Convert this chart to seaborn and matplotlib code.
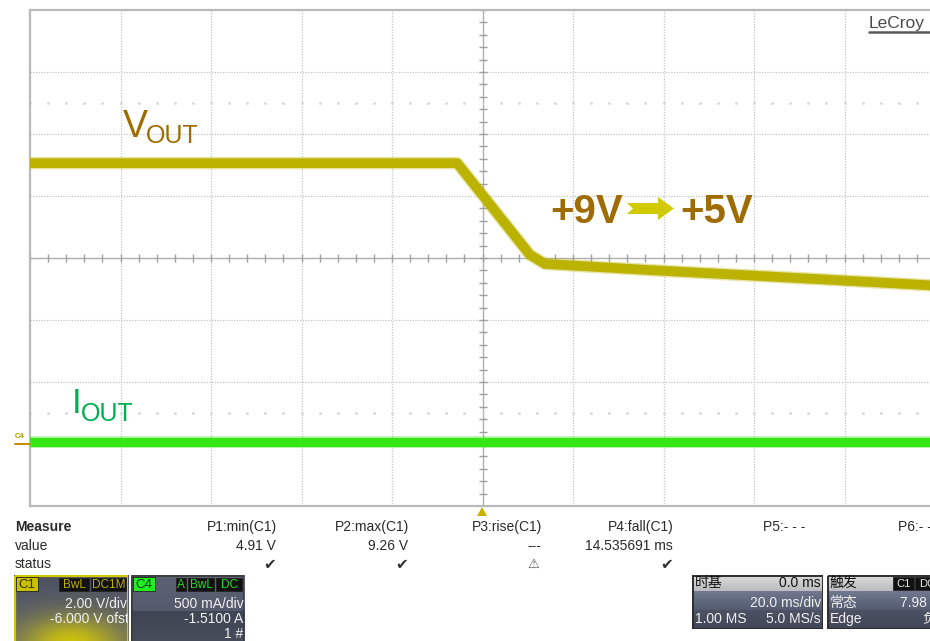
import numpy as np
import matplotlib
matplotlib.use("Agg")
import matplotlib.pyplot as plt
import seaborn as sns
from matplotlib.patches import Rectangle, Polygon
from matplotlib.lines import Line2D

sns.set_style("white")
plt.rcParams['font.family'] = ['Liberation Sans', 'Noto Sans CJK SC', 'DejaVu Sans']

# ---- acquisition settings ----
ms_per_div = 20.0
v_per_div = 2.0
v_offset = -6.0
a_per_div = 0.5
a_offset = -1.51

# ---- C1: output voltage (V) vs time (ms) ----
vout_time_ms = [-100, -5.6, 10.5, 13.8, 37.0, 70.2, 100]
vout_v = [9.06, 9.06, 6.10, 5.81, 5.61, 5.35, 5.11]

# ---- C4: output current (A) vs time (ms) ----
iout_time_ms = [-100, 100]
iout_a = [0.03, 0.03]

# ---- measurement table ----
measure_names = ["P1:min(C1)", "P2:max(C1)", "P3:rise(C1)", "P4:fall(C1)", "P5:- - -", "P6:- - -"]
measure_values = ["4.91 V", "9.26 V", "---", "14.535691 ms", "", ""]
measure_status = ["ok", "ok", "warn", "ok", "", ""]

W, H = 930, 641
VOUT_COLOR = "#bcb300"
IOUT_COLOR = "#33e614"
LABEL_GOLD = "#9e6c00"
LABEL_GREEN = "#00ad4f"


def fx(x):
    return x / W


def fy(y):
    return 1 - y / H


fig = plt.figure(figsize=(W / 100, H / 100), dpi=100)
fig.patch.set_facecolor("white")

# ---- graticule (10 x 8 divisions) ----
ax = fig.add_axes([fx(30), fy(506), 905 / W, 496 / H])
ax.set_xlim(-5 * ms_per_div, 5 * ms_per_div)
v_center = -v_offset
ax.set_ylim(v_center - 4 * v_per_div, v_center + 4 * v_per_div)
ax.set_xticks([]); ax.set_yticks([])
ax.set_facecolor("white")
for s in ax.spines.values():
    s.set_color("#b9b9b9"); s.set_linewidth(1.6)

grid_kw = dict(color="#c4c4c4", lw=0.9, ls=(0, (1, 1.2)), zorder=1)
for k in range(-4, 5):
    if k != 0:
        ax.axvline(k * ms_per_div, **grid_kw)
for k in range(-3, 4):
    if k != 0:
        ax.axhline(v_center + k * v_per_div, **grid_kw)
ax.axvline(0, color="#b0b0b0", lw=1.0, zorder=1)
ax.axhline(v_center, color="#b0b0b0", lw=1.0, zorder=1)

# minor ticks on the centre lines (5 per division)
ty = v_center + np.arange(-20, 21) * v_per_div / 5
ax.plot(np.zeros_like(ty), ty, ls="none", marker="_", ms=6, mew=1.0, color="#a0a0a0", zorder=1)
tx = np.arange(-25, 26) * ms_per_div / 5
ax.plot(tx, np.full_like(tx, v_center), ls="none", marker="|", ms=6, mew=1.0, color="#a0a0a0", zorder=1)
# faint half-division dotted rows
for yy in (v_center + 2.5 * v_per_div, v_center - 2.5 * v_per_div):
    ax.plot(tx, np.full_like(tx, yy), ls="none", marker=".", ms=2.2, color="#dadada", zorder=1)

# ---- C1 trace ----
sns.lineplot(x=vout_time_ms, y=vout_v, ax=ax, color=VOUT_COLOR, linewidth=9.0,
             alpha=0.35, solid_capstyle="butt", zorder=3)
sns.lineplot(x=vout_time_ms, y=vout_v, ax=ax, color=VOUT_COLOR, linewidth=7.0,
             solid_capstyle="butt", zorder=4)

# ---- C4 trace on its own vertical scale ----
ax2 = ax.twinx()
ax2.set_ylim(-a_offset - 4 * a_per_div, -a_offset + 4 * a_per_div)
ax2.set_yticks([]); ax2.set_xticks([])
for s in ax2.spines.values():
    s.set_visible(False)
sns.lineplot(x=iout_time_ms, y=iout_a, ax=ax2, color=IOUT_COLOR, linewidth=8.5,
             alpha=0.35, solid_capstyle="butt", zorder=3)
sns.lineplot(x=iout_time_ms, y=iout_a, ax=ax2, color=IOUT_COLOR, linewidth=6.6,
             solid_capstyle="butt", zorder=4)

# ---- annotations on the screen ----
fig.text(fx(123), fy(137), "V", fontsize=27, color=LABEL_GOLD, va="baseline")
fig.text(fx(146), fy(143), "OUT", fontsize=18, color=LABEL_GOLD, va="baseline")
fig.text(fx(72), fy(413), "I", fontsize=25, color=LABEL_GREEN, va="baseline")
fig.text(fx(81), fy(421), "OUT", fontsize=18, color=LABEL_GREEN, va="baseline")

fig.text(fx(550), fy(223), "+9V", fontsize=29, fontweight="bold", color=LABEL_GOLD, va="baseline")
fig.text(fx(680), fy(223), "+5V", fontsize=29, fontweight="bold", color=LABEL_GOLD, va="baseline")
arrow_px = [(627, 203), (658, 203), (658, 197), (674, 208.5), (658, 220), (658, 214), (627, 214), (633, 208.5)]
fig.patches.append(Polygon([(fx(x), fy(y)) for x, y in arrow_px], closed=True,
                           transform=fig.transFigure, facecolor="#d2ca00", edgecolor="none"))

fig.text(fx(869), fy(28), "LeCroy", fontsize=12.5, color="#4a4a4a", va="baseline")
fig.lines.append(Line2D([fx(869), fx(935)], [fy(31.5), fy(31.5)], transform=fig.transFigure,
                        color="#5a5a5a", lw=1.8))

# C4 ground marker
fig.text(fx(15), fy(438), "C4", fontsize=5.5, fontweight="bold", color="#a89a00", va="baseline")
fig.lines.append(Line2D([fx(15), fx(30)], [fy(444), fy(444)], transform=fig.transFigure,
                        color="#c88a00", lw=1.4))

# trigger position marker
trig_px = [(477, 516), (487, 516), (482, 507)]
fig.patches.append(Polygon([(fx(x), fy(y)) for x, y in trig_px], closed=True,
                           transform=fig.transFigure, facecolor="#c8b400", edgecolor="none"))

# ---- measurement table ----
TXT = "#2a2a2a"
fig.text(fx(15), fy(527), "Measure", fontsize=10, fontweight="bold", color=TXT, va="center")
fig.text(fx(15), fy(546), "value", fontsize=10, color=TXT, va="center")
fig.text(fx(15), fy(564), "status", fontsize=10, color=TXT, va="center")
col_right = [277, 409, 542, 674, 805, 940]
for xr, name, val, st in zip(col_right, measure_names, measure_values, measure_status):
    fig.text(fx(xr), fy(527), name, fontsize=10, color=TXT, ha="right", va="center")
    if val:
        fig.text(fx(xr - 1), fy(546), val, fontsize=10, color=TXT, ha="right", va="center")
    if st == "ok":
        fig.text(fx(xr - 1), fy(564), "\u2714", fontsize=11, color="#333333", ha="right",
                 va="center", family=["DejaVu Sans"])
    elif st == "warn":
        fig.text(fx(xr - 9), fy(564), "\u26a0", fontsize=9.5, color="#555555", ha="center",
                 va="center", family=["DejaVu Sans"])


# ---- channel / timebase / trigger boxes ----
def box_axes(x0, y0, x1, y1):
    a = fig.add_axes([fx(x0), fy(y1), (x1 - x0) / W, (y1 - y0) / H])
    a.set_xlim(x0, x1); a.set_ylim(y1, y0); a.axis("off")
    return a


def vgrad(top, bottom, n=60):
    t = np.linspace(0, 1, n)[:, None]
    return (1 - t) * np.array(top) + t * np.array(bottom)


def badge(a, x0, x1, y0, y1, text, fc, tc, fs=8):
    a.add_patch(Rectangle((x0, y0), x1 - x0, y1 - y0, facecolor=fc, edgecolor="#222222", lw=0.6))
    a.text((x0 + x1) / 2, (y0 + y1) / 2 + 0.5, text, fontsize=fs, color=tc, ha="center",
           va="center", clip_on=True)


WHITE = "#f0f0f0"

# C1 box with yellow glow
b1 = box_axes(14, 575, 128, 641)
gy, gx = np.mgrid[0:1:66j, 0:1:114j]
glow = np.exp(-((gx - 0.5) / 0.45) ** 2 - ((gy - 1.05) / 0.42) ** 2)[..., None]
base = vgrad([0.30, 0.32, 0.38], [0.36, 0.38, 0.44], 66)[:, None, :]
img = base * (1 - glow) + np.array([0.80, 0.76, 0.05]) * glow
b1.imshow(np.clip(img, 0, 1), extent=(14, 128, 641, 575), aspect="auto", zorder=0)
b1.add_patch(Rectangle((14.5, 575.5), 113, 70, facecolor="none", edgecolor="#d2c800", lw=1.6))
badge(b1, 16, 38, 577, 591, "C1", "#c8c000", "#303000", fs=9.5)
badge(b1, 59, 89, 578, 591, "BwL", "#111111", "#bcae00", fs=8.5)
badge(b1, 91, 126, 578, 591, "DC1M", "#111111", "#bcae00", fs=8.5)
b1.text(127, 604, "2.00 V/div", fontsize=10, color=WHITE, ha="right", va="center", clip_on=True)
b1.text(129, 619, "-6.000 V ofst", fontsize=10, color=WHITE, ha="right", va="center", clip_on=True)

# C4 box
b4 = box_axes(131, 575, 244, 641)
img4 = np.concatenate([vgrad([0.36, 0.38, 0.45], [0.33, 0.35, 0.42], 36),
                       vgrad([0.25, 0.27, 0.33], [0.28, 0.30, 0.36], 30)])[:, None, :]
b4.imshow(np.repeat(img4, 10, axis=1), extent=(131, 244, 641, 575), aspect="auto", zorder=0)
b4.add_patch(Rectangle((131.5, 575.5), 112, 70, facecolor="none", edgecolor="#3a3a3a", lw=1.2))
badge(b4, 133, 155, 577, 591, "C4", "#22ee22", "#0a3a0a", fs=9.5)
badge(b4, 176, 186, 578, 591, "A", "#111111", "#22dd22", fs=8.5)
badge(b4, 188, 214, 578, 591, "BwL", "#111111", "#22dd22", fs=8.5)
badge(b4, 216, 242, 578, 591, "DC", "#111111", "#22dd22", fs=8.5)
b4.text(244, 604, "500 mA/div", fontsize=10, color=WHITE, ha="right", va="center", clip_on=True)
b4.text(243, 619, "-1.5100 A", fontsize=10, color=WHITE, ha="right", va="center", clip_on=True)
b4.text(243, 634, "1 #", fontsize=10, color=WHITE, ha="right", va="center", clip_on=True)

CJK = ["Noto Sans CJK SC"]


def info_box(x0, x1):
    b = box_axes(x0, 575, x1, 629)
    img = np.concatenate([vgrad([0.86, 0.86, 0.86], [0.74, 0.74, 0.76], 16),
                          vgrad([0.44, 0.47, 0.56], [0.33, 0.36, 0.44], 19),
                          vgrad([0.30, 0.32, 0.39], [0.26, 0.28, 0.34], 19)])[:, None, :]
    b.imshow(np.repeat(img, 10, axis=1), extent=(x0, x1, 629, 575), aspect="auto", zorder=0)
    b.add_patch(Rectangle((x0 + 0.5, 575.5), x1 - x0 - 1, 53, facecolor="none",
                          edgecolor="#2e2e2e", lw=1.4))
    return b


tb = info_box(692, 823)
tb.text(695, 583, "时基", fontsize=10, color="#111111", va="center", family=CJK)
tb.text(821, 583, "0.0 ms", fontsize=10, color="#111111", ha="right", va="center")
tb.text(821, 603, "20.0 ms/div", fontsize=10, color=WHITE, ha="right", va="center", clip_on=True)
tb.text(695, 619, "1.00 MS", fontsize=10, color=WHITE, va="center")
tb.text(821, 619, "5.0 MS/s", fontsize=10, color=WHITE, ha="right", va="center")

tr = info_box(827, 960)
tr.text(830, 583, "触发", fontsize=10, color="#111111", va="center", family=CJK)
badge(tr, 893, 914, 577, 590, "C1", "#111111", "#e8e8e8", fs=8)
badge(tr, 915, 940, 577, 590, "DC", "#111111", "#e8e8e8", fs=8)
tr.text(830, 603, "常态", fontsize=10, color=WHITE, va="center", family=CJK)
tr.text(900, 603, "7.98 V", fontsize=10, color=WHITE, va="center")
tr.text(830, 619, "Edge", fontsize=10, color=WHITE, va="center")
tr.text(922, 619, "负", fontsize=10, color=WHITE, va="center", family=CJK)

fig.savefig("out.png", dpi=100)
